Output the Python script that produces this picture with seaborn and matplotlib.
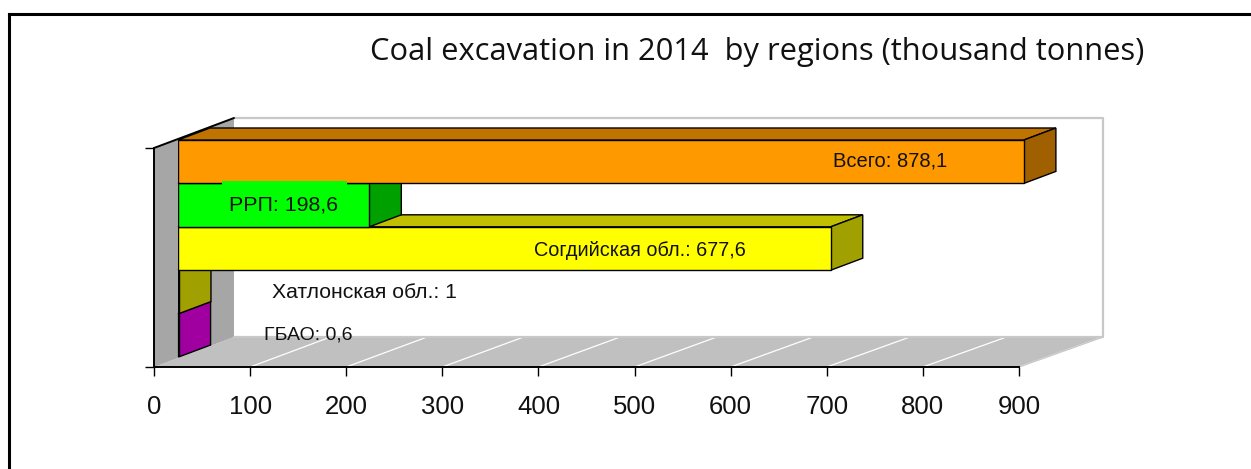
import matplotlib
matplotlib.use("Agg")
import matplotlib.pyplot as plt
from matplotlib.lines import Line2D
from matplotlib.patches import Polygon, Rectangle
from matplotlib.transforms import IdentityTransform
import seaborn as sns

# data
regions = ["Всего", "РРП", "Согдийская обл.", "Хатлонская обл.", "ГБАО"]
coal = [878.1, 198.6, 677.6, 1, 0.6]
front_colors = ["#FF9900", "#00FF00", "#FFFF00", "#FFFF00", "#FF00FF"]
top_colors = ["#C07400", "#00C000", "#C0C000", "#C0C000", "#C000C0"]
side_colors = ["#A06000", "#00A000", "#A0A000", "#A0A000", "#A000A0"]
x_ticks = [0, 100, 200, 300, 400, 500, 600, 700, 800, 900]
# where each data label sits along the value axis
label_x = [739, 110, 480, 194, 135]
label_y = [-0.01, 0.0, 0.04, 0.01, 0.0]
label_size = [14.5, 15.4, 14.3, 15.3, 14.0]

W, H = 1251, 469
sns.set_theme(style="white")
plt.rcParams["font.family"] = ["Liberation Sans", "DejaVu Sans"]

fig = plt.figure(figsize=(W / 100, H / 100), dpi=100, facecolor="white")


def axes_px(left, top, right, bottom):
    return fig.add_axes([left / W, 1 - bottom / H, (right - left) / W, (bottom - top) / H])


# axis frame with the ticks
ax = axes_px(154, 148, 1019, 367)
ax.set_xlim(0, 900)
ax.set_ylim(0, 1)
ax.set_xticks(x_ticks)
ax.set_yticks([0, 1])
ax.set_yticklabels([])
ax.tick_params(axis="x", length=6.5, width=1, color="black", pad=13.5, labelsize=18.5, labelcolor="#111111", bottom=True)
ax.tick_params(axis="y", length=6.5, width=1, color="black", left=True)
for side in ["top", "right"]:
    ax.spines[side].set_visible(False)
for side in ["left", "bottom"]:
    ax.spines[side].set_color("black")
    ax.spines[side].set_linewidth(1.4)
    ax.spines[side].set_zorder(6)
ax.patch.set_alpha(0)

# bars sit a bit behind the axis plane
bar_ax = axes_px(178, 140, 178 + 867, 357)
sns.barplot(x=coal, y=regions, hue=regions, palette=front_colors, legend=False, saturation=1,
            orient="h", width=1, edgecolor="black", linewidth=1, ax=bar_ax)
bar_ax.set_xlim(0, 900)
bar_ax.set_ylim(4.5, -0.5)
bar_ax.axis("off")
bar_ax.set_zorder(3)

fig.canvas.draw()


def px(axis, x, y, dx=0, dy=0):
    a, b = axis.transData.transform((x, y))
    return (a + dx, b + dy)


def poly(axis, pts, color, edge="none", lw=0, z=1):
    axis.add_patch(Polygon(pts, closed=True, facecolor=color, edgecolor=edge, linewidth=lw,
                           transform=IdentityTransform(), clip_on=False, zorder=z))


def seg(axis, pts, color, lw, z=2):
    axis.add_line(Line2D([p[0] for p in pts], [p[1] for p in pts], color=color, lw=lw,
                         transform=IdentityTransform(), clip_on=False, zorder=z))


# walls and floor of the fake 3D box
left_dx, right_dx, wall_dy = 80, 84, 30
back_l0 = px(ax, 0, 0, left_dx, wall_dy)
back_l1 = px(ax, 0, 1, left_dx, wall_dy)
back_r0 = px(ax, 900, 0, right_dx, wall_dy)
back_r1 = px(ax, 900, 1, right_dx, wall_dy)
poly(ax, [px(ax, 0, 0), px(ax, 900, 0), back_r0, back_l0], "#C0C0C0", z=1)
poly(ax, [px(ax, 0, 0), px(ax, 0, 1), back_l1, back_l0], "#A6A6A6", z=1)
for t in x_ticks[1:]:
    seg(ax, [px(ax, t, 0), px(ax, t, 0, left_dx + (right_dx - left_dx) * t / 900, wall_dy)], "white", 0.9)
seg(ax, [back_l1, back_r1, back_r0, back_l0], "#C8C8C8", 1.6)
seg(ax, [px(ax, 900, 0), back_r0], "#C8C8C8", 1.0)
seg(ax, [px(ax, 0, 1), back_l1], "black", 1.4, z=5)

# bar side and top faces, lower bars first so upper ones cover them
bar_dx, bar_dy = 32, 12
bars = list(bar_ax.patches)
for i in range(len(bars) - 1, -1, -1):
    bar = bars[i]
    z = 2 + (len(bars) - i) * 2
    y0, y1 = bar.get_y(), bar.get_y() + bar.get_height()
    v = coal[i]
    bar.set_zorder(z + 1)
    poly(bar_ax, [px(bar_ax, 0, y0), px(bar_ax, v, y0), px(bar_ax, v, y0, bar_dx, bar_dy), px(bar_ax, 0, y0, bar_dx, bar_dy)],
         top_colors[i], "black", 1, z)
    poly(bar_ax, [px(bar_ax, v, y0), px(bar_ax, v, y1), px(bar_ax, v, y1, bar_dx, bar_dy), px(bar_ax, v, y0, bar_dx, bar_dy)],
         side_colors[i], "black", 1, z)

# the РРП label box bites into the bar above it
bar_ax.add_patch(Rectangle((46, 0.45), 129, 0.2, facecolor="#00FF00", edgecolor="none", zorder=25))

# data labels
for i, name in enumerate(regions):
    txt = f"{name}: {str(coal[i]).replace('.', ',')}"
    bar_ax.text(label_x[i], i + label_y[i], txt, ha="center", va="center", fontsize=label_size[i],
                color="#111111", zorder=30, clip_on=False)

fig.text(757 / W, 1 - 52 / H, "Coal excavation in 2014  by regions (thousand tonnes)", ha="center", va="center",
         fontsize=22.2, color="#111111", family="Open Sans")

# outer frame, only top and left show
fig.add_artist(Line2D([9 / W, 9 / W], [0, 1 - 14 / H], color="black", lw=2.2, solid_capstyle="projecting"))
fig.add_artist(Line2D([9 / W, 1], [1 - 14 / H, 1 - 14 / H], color="black", lw=2.2, solid_capstyle="projecting"))

fig.savefig("out.png", dpi=100, facecolor="white")
